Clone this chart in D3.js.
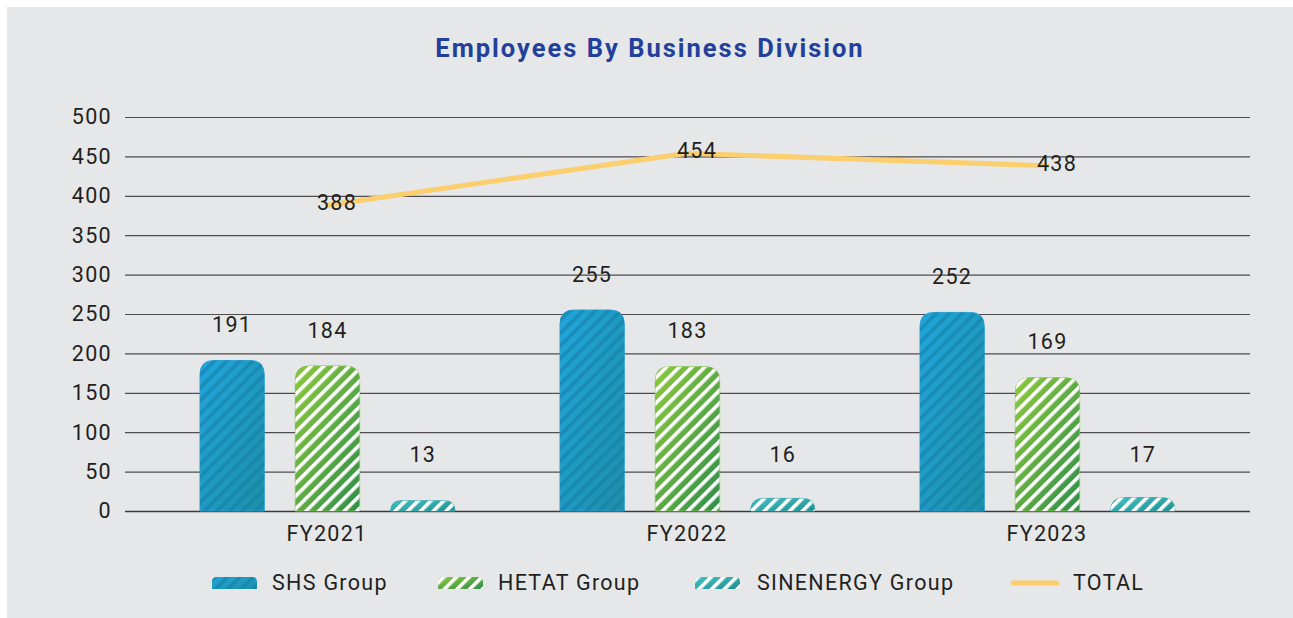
<!DOCTYPE html>
<html><head><meta charset="utf-8">
<script src="https://cdn.jsdelivr.net/npm/d3@7"></script>
<style>body{margin:0;background:#fff}svg{display:block}</style>
</head><body>
<svg id="c" width="1293" height="618"></svg>
<script>
const categories = ["FY2021","FY2022","FY2023"];
const seriesNames = ["SHS Group","HETAT Group","SINENERGY Group"];
const shsValues = [191,255,252];
const hetatValues = [184,183,169];
const sinenergyValues = [13,16,17];
const totalValues = [388,454,438];
const yTicks = [0,50,100,150,200,250,300,350,400,450,500];

const svg = d3.select("#c");
const W = 1293, H = 618;
const font = "Roboto, 'DejaVu Sans', sans-serif";
const LS = 1.3;
svg.append("rect").attr("x",7).attr("y",7).attr("width",W-7).attr("height",H-7).attr("fill","#e6e7e9");

const defs = svg.append("defs");
function grad(id, c1, c2){
  const g = defs.append("linearGradient").attr("id",id).attr("x1","0").attr("y1","0").attr("x2","1").attr("y2","1");
  g.append("stop").attr("offset","0").attr("stop-color",c1);
  g.append("stop").attr("offset","1").attr("stop-color",c2);
}
grad("gShs","#20a6dc","#1d8fa6");
grad("gHet","#8cc83f","#2f8f48");
grad("gSin","#45c0c4","#1f8f8f");
function stripeMask(id, w){
  const p = defs.append("pattern").attr("id",id).attr("patternUnits","userSpaceOnUse")
    .attr("width",9).attr("height",9).attr("patternTransform","rotate(45)");
  p.append("rect").attr("width",9).attr("height",9).attr("fill","black");
  p.append("rect").attr("width",w).attr("height",9).attr("fill","white");
  const m = defs.append("mask").attr("id",id+"M").attr("maskContentUnits","userSpaceOnUse");
  m.append("rect").attr("x",0).attr("y",0).attr("width",W).attr("height",H).attr("fill","url(#"+id+")");
}
stripeMask("stW", 3.6);

const plotL = 125, plotR = 1250;
const y = d3.scaleLinear().domain([0,500]).range([511,117]);
const x0 = d3.scaleBand().domain(categories).range([147,1227]);
const x1 = d3.scaleBand().domain(seriesNames).range([53,308]).paddingInner(0.326).paddingOuter(0);
const seriesData = [shsValues, hetatValues, sinenergyValues];

function txt(sel){
  return sel.attr("font-family",font).attr("font-size",21.5).attr("letter-spacing",LS).attr("fill","#231f20");
}

// title
svg.append("text").attr("x",650).attr("y",57).attr("text-anchor","middle")
  .attr("font-family",font).attr("font-weight","bold").attr("font-size",25.5).attr("letter-spacing",2.0)
  .attr("fill","#22409a").text("Employees By Business Division");

// grid
const yAxis = d3.axisLeft(y).tickValues(yTicks).tickSize(-(plotR-plotL)).tickPadding(13);
const ga = svg.append("g").attr("transform",`translate(${plotL},0)`).call(yAxis);
ga.select(".domain").remove();
ga.selectAll(".tick line").attr("stroke","#4d4d4f").attr("stroke-width",1.2);
txt(ga.selectAll(".tick text"));
ga.selectAll(".tick").filter(d=>d===0).select("line").attr("stroke","#3a3a3c").attr("stroke-width",1.6);

// x axis labels
const xa = svg.append("g").attr("transform","translate(0,511)").call(d3.axisBottom(x0).tickSize(0).tickPadding(15));
xa.select(".domain").remove();
txt(xa.selectAll(".tick text"));

function roundTopPath(x, yTop, w, h, r){
  r = Math.min(r, h, w/2);
  return `M${x},${yTop+h}V${yTop+r}Q${x},${yTop} ${x+r},${yTop}H${x+w-r}Q${x+w},${yTop} ${x+w},${yTop+r}V${yTop+h}Z`;
}
const styles = [
  {base:"url(#gShs)", stripe:"#177fa8", stripeOp:0.6, stroke:"#2aa0d8"},
  {base:"url(#gHet)", stripe:"#ffffff", stripeOp:1, stroke:"#7cbf45"},
  {base:"url(#gSin)", stripe:"#ffffff", stripeOp:1, stroke:"#3aaab0"}
];

const bars = svg.append("g");
categories.forEach((c,ci)=>{
  seriesNames.forEach((s,si)=>{
    const v = seriesData[si][ci];
    const bx = x0(c)+x1(s), bw = x1.bandwidth(), by = y(v), bh = y(0)-y(v);
    const d = roundTopPath(bx, by, bw, bh, 14);
    bars.append("path").attr("d",d).attr("fill",styles[si].base).attr("stroke",styles[si].stroke).attr("stroke-width",1);
    bars.append("path").attr("d",d).attr("fill",styles[si].stripe).attr("opacity",styles[si].stripeOp).attr("mask","url(#stWM)");
    const ly = Math.min(by - 34, y(70));
    txt(bars.append("text").attr("x",bx+bw/2).attr("y",ly).attr("text-anchor","middle").attr("dominant-baseline","middle")).text(v);
  });
});

// total line
const line = d3.line().x((d,i)=>x0(categories[i])+x0.bandwidth()/2).y(d=>y(d));
svg.append("path").datum(totalValues).attr("d",line).attr("fill","none")
  .attr("stroke","#fccf6e").attr("stroke-width",5).attr("stroke-linecap","round");
totalValues.forEach((v,i)=>{
  txt(svg.append("text").attr("x",x0(categories[i])+x0.bandwidth()/2+10).attr("y",y(v)-1).attr("text-anchor","middle")
    .attr("dominant-baseline","middle")).text(v);
});

// legend
const legendItems = [
  {name:seriesNames[0], sx:212, tx:272, si:0},
  {name:seriesNames[1], sx:438, tx:498, si:1},
  {name:seriesNames[2], sx:695, tx:757, si:2},
  {name:"TOTAL", sx:1013, tx:1073, si:-1}
];
const lg = svg.append("g");
legendItems.forEach(it=>{
  if(it.si>=0){
    const d = roundTopPath(it.sx, 577, 45, 12, 5);
    lg.append("path").attr("d",d).attr("fill",styles[it.si].base);
    lg.append("path").attr("d",d).attr("fill",styles[it.si].stripe).attr("opacity",styles[it.si].stripeOp).attr("mask","url(#stWM)");
  } else {
    lg.append("line").attr("x1",it.sx).attr("x2",it.sx+44).attr("y1",583).attr("y2",583)
      .attr("stroke","#fccf6e").attr("stroke-width",5).attr("stroke-linecap","round");
  }
  txt(lg.append("text").attr("x",it.tx).attr("y",584).attr("dominant-baseline","middle")).text(it.name);
});
</script>
</body></html>
